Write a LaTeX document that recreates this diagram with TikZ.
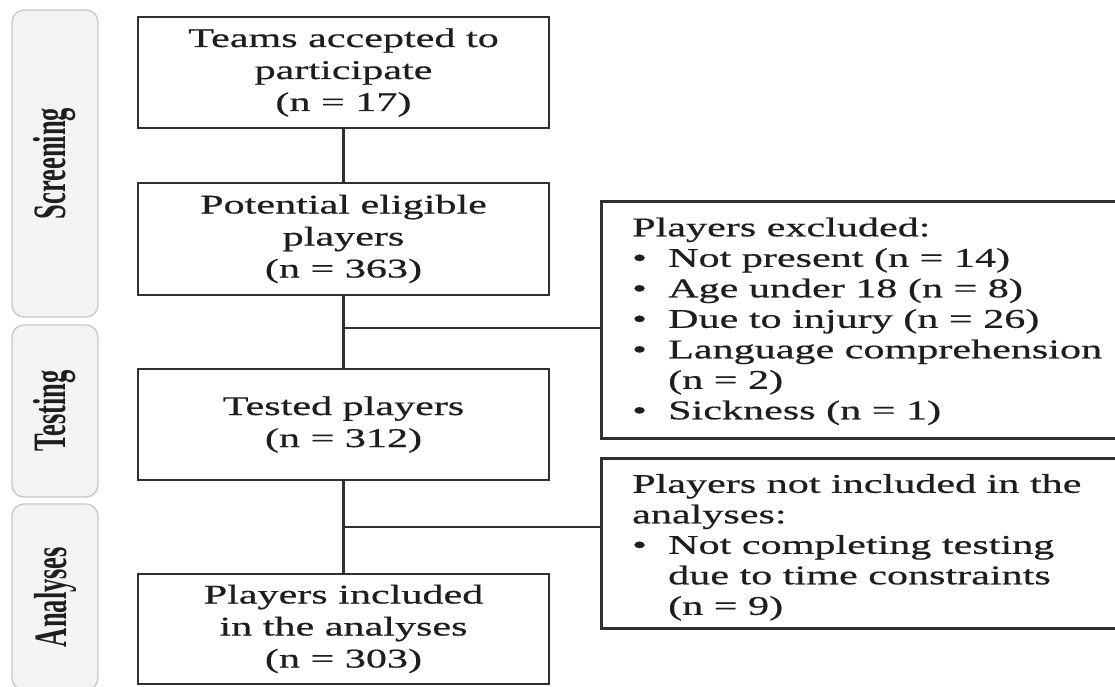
\documentclass[tikz,border=0pt]{standalone}
\usepackage{fontspec}
\usepackage{graphicx}
\setmainfont{Liberation Serif}[FakeStretch=1.56,FakeBold=0.6]
\newfontfamily\labelfont{Liberation Serif}
\definecolor{phasefill}{HTML}{F3F3F3}
\definecolor{phaseline}{HTML}{C9C9C9}
\definecolor{ink}{HTML}{1E1E1E}
\definecolor{edge}{HTML}{303030}
\newcommand\itemdot{\makebox[36pt][l]{\textbullet}}
\newcommand\itemgap{\hspace*{36pt}}
\begin{document}
\begin{tikzpicture}[x=1pt,y=-1pt,
  mainbox/.style={draw=edge, line width=2.2pt, fill=white, minimum width=411pt, align=center, inner sep=0pt, font=\fontsize{27}{32}\selectfont, text=ink},
  sidebox/.style={draw=edge, line width=2.6pt, fill=white, minimum width=530pt, anchor=north west, inner sep=0pt},
  sidetext/.style={anchor=west, align=left, inner sep=0pt, font=\fontsize{27}{30.5}\selectfont, text=ink},
  phase/.style={draw=phaseline, fill=phasefill, line width=1.4pt, rounded corners=12pt, minimum width=86pt, inner sep=0pt},
  phaselabel/.style={inner sep=0pt, text=ink},
  link/.style={draw=edge, line width=2.2pt}]
\useasboundingbox (0,0) rectangle (1115,686);
\fill[white] (0,0) rectangle (1115,686);

% phase tabs
\node[phase, minimum height=307pt] (ps) at (55,163.5) {};
\node[phase, minimum height=172pt] (pt) at (55,411) {};
\node[phase, minimum height=186pt] (pa) at (55,597) {};
\node[phaselabel] (psl) at (ps) {\scalebox{1.75}[1]{\rotatebox{90}{\labelfont\bfseries\fontsize{26.5}{30}\selectfont Screening}}};
\node[phaselabel] (ptl) at (pt) {\scalebox{1.75}[1]{\rotatebox{90}{\labelfont\bfseries\fontsize{26.5}{30}\selectfont Testing}}};
\node[phaselabel] (pal) at (pa) {\scalebox{1.75}[1]{\rotatebox{90}{\labelfont\bfseries\fontsize{26.5}{30}\selectfont Analyses}}};

% main flow
\node[mainbox, minimum height=111pt] (b1) at (343.5,72.5) {Teams accepted to\\participate\\(n = 17)};
\node[mainbox, minimum height=112pt] (b2) at (343.5,239) {Potential eligible\\players\\(n = 363)};
\node[mainbox, minimum height=111pt] (b3) at (343.5,424.5) {Tested players\\(n = 312)};
\node[mainbox, minimum height=110pt] (b4) at (343.5,629) {Players included\\in the analyses\\(n = 303)};

% side boxes
\node[sidebox, minimum height=237pt] (ex) at (600,200) {};
\node[sidetext] (ext) at ([xshift=32pt,yshift=-1.5pt]ex.west) {Players excluded:\\
\itemdot Not present (n = 14)\\
\itemdot Age under 18 (n = 8)\\
\itemdot Due to injury (n = 26)\\
\itemdot Language comprehension\\
\itemgap(n = 2)\\
\itemdot Sickness (n = 1)};
\node[sidebox, minimum height=170pt] (nx) at (600,457) {};
\node[sidetext] (nxt) at ([xshift=32pt,yshift=-4pt]nx.west) {Players not included in the\\
analyses:\\
\itemdot Not completing testing\\
\itemgap due to time constraints\\
\itemgap(n = 9)};

% connectors
\draw[link] (b1.south) -- (b2.north);
\draw[link] (b2.south) -- (b3.north);
\draw[link] (b3.south) -- (b4.north);
\coordinate (j1) at (343.5,328);
\coordinate (j2) at (343.5,527);
\draw[link] (j1) -- (j1 -| ex.west);
\draw[link] (j2) -- (j2 -| nx.west);
\end{tikzpicture}
\end{document}
